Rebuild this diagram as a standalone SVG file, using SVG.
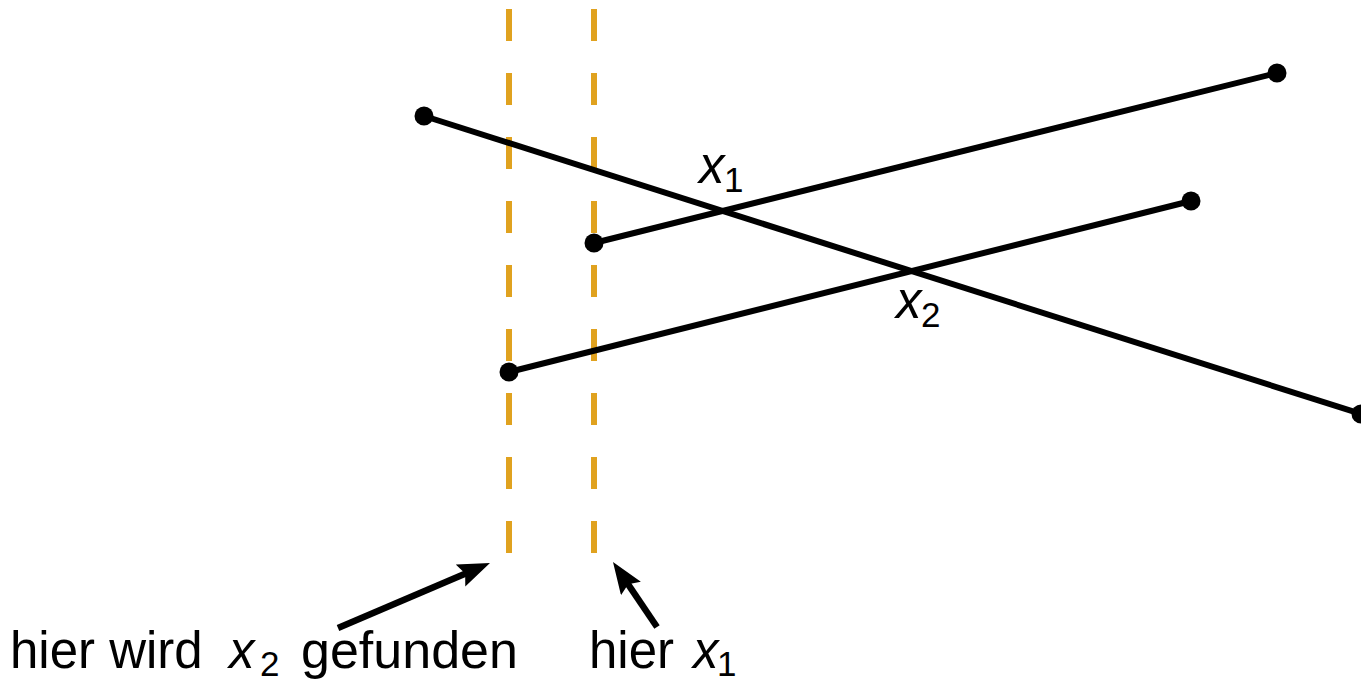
<svg xmlns="http://www.w3.org/2000/svg" width="1361" height="681" viewBox="0 0 1361 681">
<defs>
<style>
.guide{stroke:#E0A21F;stroke-width:6;stroke-dasharray:32 32;fill:none}
.seg{stroke:#000;stroke-width:6;fill:none}
.dot{fill:#000}
.arr{stroke:#000;stroke-width:6.5;fill:none}
text{font-family:"Liberation Sans",Arial,sans-serif;fill:#000;font-size:51px}
.math{font-style:italic}
.sub{font-size:35px}
</style>
<marker id="ah" viewBox="0 0 32 24" refX="17" refY="12" markerWidth="32" markerHeight="24" markerUnits="userSpaceOnUse" orient="auto">
<path d="M0,0 L32,12 L0,24 L5,12 Z" fill="#000"/>
</marker>
</defs>
<g id="guides">
<line class="guide" x1="509" y1="9" x2="509" y2="553"/>
<line class="guide" x1="594" y1="9" x2="594" y2="553"/>
</g>
<g id="connectors">
<line class="seg" x1="424" y1="116" x2="1361" y2="414"/>
<line class="seg" x1="594" y1="243" x2="1277" y2="73"/>
<line class="seg" x1="509" y1="372" x2="1191" y2="201"/>
<line class="arr" x1="338" y1="628" x2="476.2" y2="568.9" marker-end="url(#ah)"/>
<line class="arr" x1="657" y1="627" x2="621.4" y2="574.4" marker-end="url(#ah)"/>
</g>
<g id="points">
<circle class="dot" cx="424" cy="116" r="9.5"/>
<circle class="dot" cx="1361" cy="414" r="9.5"/>
<circle class="dot" cx="594" cy="243" r="9.5"/>
<circle class="dot" cx="1277" cy="73" r="9.5"/>
<circle class="dot" cx="509" cy="372" r="9.5"/>
<circle class="dot" cx="1191" cy="201" r="9.5"/>
</g>
<g id="label-x1">
<text x="699" y="183"><tspan class="math">x</tspan><tspan class="sub" x="724" y="192">1</tspan></text>
</g>
<g id="label-x2">
<text x="896" y="318"><tspan class="math">x</tspan><tspan class="sub" x="921" y="327">2</tspan></text>
</g>
<g id="note-x2">
<text x="10" y="668">hier wird<tspan class="math" x="229">x</tspan><tspan class="sub" x="260" y="676">2</tspan><tspan x="301" y="668" font-size="52">gefunden</tspan></text>
</g>
<g id="note-x1">
<text x="589" y="668">hier<tspan class="math" x="693">x</tspan><tspan class="sub" x="717" y="676">1</tspan></text>
</g>
</svg>
